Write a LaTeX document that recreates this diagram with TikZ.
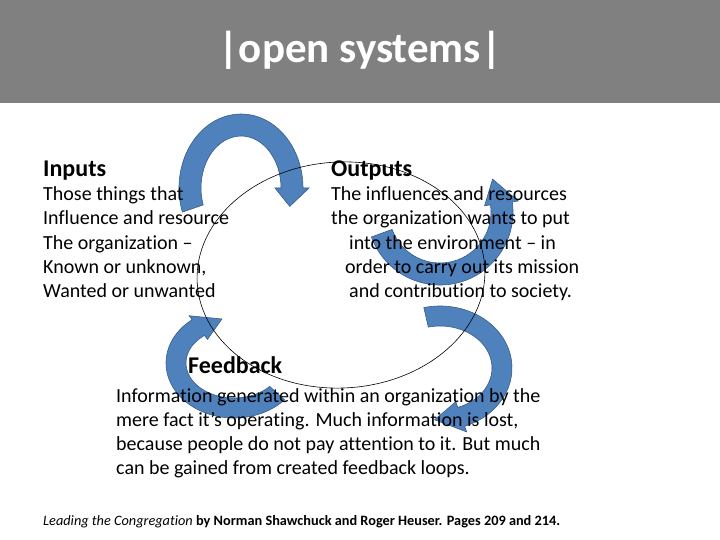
\documentclass[tikz,border=0pt]{standalone}
\usepackage{fontspec}
\setmainfont{Carlito}[Ligatures=CommonOff]
\definecolor{titlegray}{RGB}{128,128,128}
\definecolor{arrowblue}{RGB}{79,129,189}
\definecolor{arrowedge}{RGB}{56,93,138}
% curved block arrow: center, rx, ry, half width, head half width, start, shaft end, tip
\newcommand{\bentarrow}[8]{%
  \pgfmathsetmacro{\rxo}{#2+#4}\pgfmathsetmacro{\ryo}{#3+#4}%
  \pgfmathsetmacro{\rxi}{#2-#4}\pgfmathsetmacro{\ryi}{#3-#4}%
  \pgfmathsetmacro{\rxh}{#2+#5}\pgfmathsetmacro{\ryh}{#3+#5}%
  \pgfmathsetmacro{\rxk}{#2-#5}\pgfmathsetmacro{\ryk}{#3-#5}%
  \begin{scope}[shift={(#1)}]
    \filldraw[bent] (#6:{\rxo} and {\ryo}) arc[start angle=#6, end angle=#7, x radius=\rxo, y radius=\ryo]
      -- (#7:{\rxh} and {\ryh}) -- (#8:#2 and #3) -- (#7:{\rxk} and {\ryk}) -- (#7:{\rxi} and {\ryi})
      arc[start angle=#7, end angle=#6, x radius=\rxi, y radius=\ryi] -- cycle;
  \end{scope}}
\begin{document}
\begin{tikzpicture}[x=1pt, y=-1pt,
  every node/.style={inner sep=0pt, anchor=base west},
  head/.style={font=\fontsize{24}{28}\selectfont\bfseries},
  body/.style={font=\fontsize{20}{24}\selectfont},
  bent/.style={fill=arrowblue, draw=arrowedge, line width=0.6pt}]
\useasboundingbox (0,0) rectangle (720,540);
\fill[white] (0,0) rectangle (720,540);
% title bar
\fill[titlegray] (0,0) rectangle (720,103);
\node[anchor=base, font=\fontsize{43}{50}\selectfont\bfseries, text=white] (title) at (360,63) {|open systems|};
% arrows
\bentarrow{241,188}{51}{63}{11}{17}{161}{360}{377}
\bentarrow{440,212}{62}{62}{11}{17}{160}{-8}{-32}
\bentarrow{440,368}{62}{52}{10}{16}{-103}{70}{95}
\bentarrow{234,363}{58}{45}{10}{15}{42}{232}{258}
% loop
\coordinate (loop) at (341,275);
\draw[line width=0.6pt, rotate around={3:(loop)}] (loop) ellipse [x radius=144, y radius=113];
% inputs
\node[head] (inputs) at (43,177) {Inputs};
\node[body] (in1) at (43,201) {Those things that};
\node[body] (in2) at (43,225) {Influence and resource};
\node[body] (in3) at (43,249) {The organization --};
\node[body] (in4) at (43,273) {Known or unknown,};
\node[body] (in5) at (43,297) {Wanted or unwanted};
% outputs
\node[head] (outputs) at (331,177) {Outputs};
\node[body] (out1) at (331,201) {The influences and resources};
\node[body] (out2) at (331,225) {the organization wants to put};
\node[body] (out3) at (349,249) {into the environment -- in};
\node[body] (out4) at (345,273) {order to carry out its mission};
\node[body] (out5) at (349,297) {and contribution to society.};
% feedback
\node[head] (feedback) at (188,373) {Feedback};
\node[body] (fb1) at (116,402) {Information generated within an organization by the};
\node[body] (fb2) at (116,426) {mere fact it's operating. Much information is lost,};
\node[body] (fb3) at (116,450) {because people do not pay attention to it. But much};
\node[body] (fb4) at (116,474) {can be gained from created feedback loops.};
% source
\node[font=\fontsize{14.3}{17}\selectfont] (cite) at (43,525) {\textit{Leading the Congregation} \textbf{by Norman Shawchuck and Roger Heuser. Pages 209 and 214.}};
\end{tikzpicture}
\end{document}
